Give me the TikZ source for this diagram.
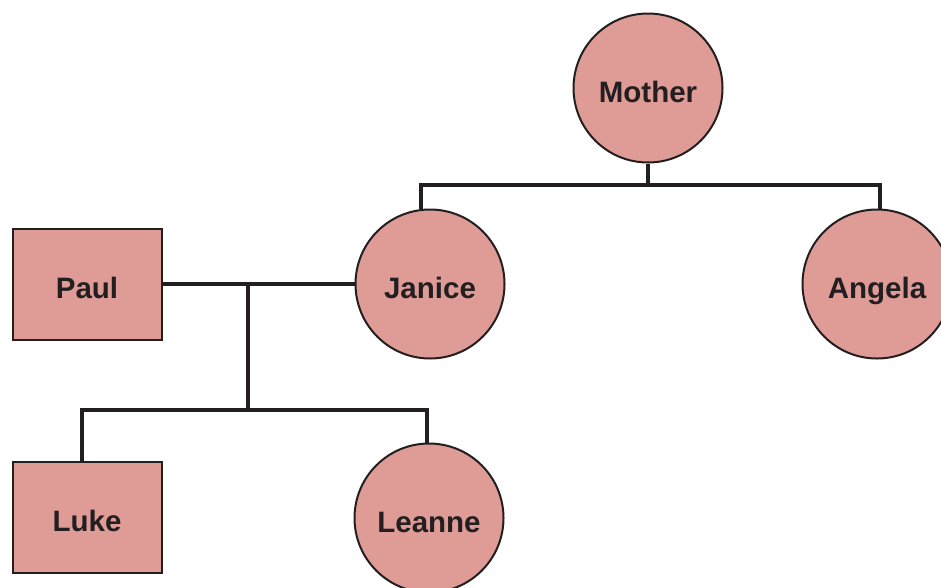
\documentclass[tikz,border=0pt]{standalone}
\usepackage{fontspec}
\setmainfont{Liberation Sans}
\definecolor{personfill}{RGB}{223,155,150}
\definecolor{ink}{RGB}{35,31,32}
\begin{document}
\begin{tikzpicture}[x=1pt,y=-1pt,
  person/.style={draw=ink,line width=2pt,fill=personfill,text=ink,
    font=\fontsize{29.5}{34}\selectfont\bfseries,inner sep=0pt,
    text height=28pt,text depth=0pt},
  female/.style={person,circle,minimum size=149pt},
  male/.style={person,rectangle,minimum width=149pt,minimum height=111pt},
  link/.style={draw=ink,line width=4.5pt,line join=miter}]
\useasboundingbox (0,0) rectangle (941,587);
\clip (0,0) rectangle (941,587);

% people
\node[female] (mother) at (648,88) {Mother};
\node[female] (janice) at (430,284) {Janice};
\node[female] (angela) at (877,284) {Angela};
\node[male]   (paul)   at (87,284)  {Paul};
\node[male]   (luke)   at (87,517.5) {Luke};
\node[female] (leanne) at (429,518) {Leanne};

% sibling bar under Mother
\coordinate (topbar) at (648,185);
\coordinate (jdrop) at (421,185);
\coordinate (adrop) at (880,185);
\draw[link] (mother.south) -- (topbar);
\draw[link] (janice.north -| jdrop) -- (jdrop) -- (adrop) -- (angela.north -| adrop);

% marriage line and children
\coordinate (marriage) at (248,284);
\coordinate (kidbar) at (248,410);
\coordinate (ldrop) at (82,410);
\coordinate (rdrop) at (427,410);
\draw[link] (paul.east) -- (janice.west);
\draw[link] (marriage) -- (kidbar);
\draw[link] (luke.north -| ldrop) -- (ldrop) -- (rdrop) -- (leanne.north -| rdrop);
\end{tikzpicture}
\end{document}
